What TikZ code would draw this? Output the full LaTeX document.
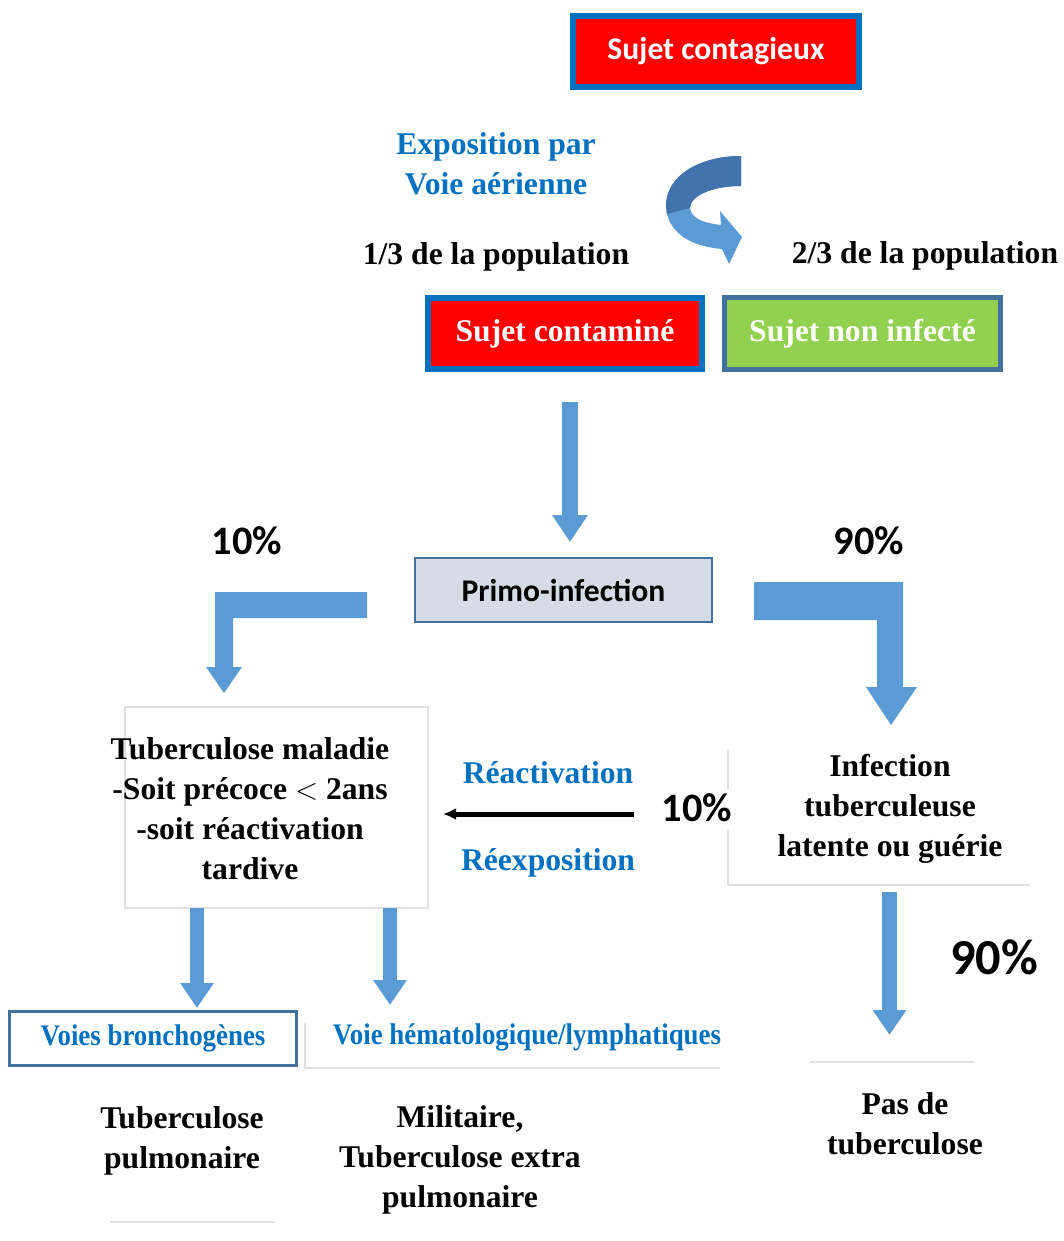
\documentclass[tikz,border=0pt]{standalone}
\usepackage{fontspec}
\setmainfont{Liberation Serif}
\newfontfamily\carlito{Carlito}
\usetikzlibrary{arrows.meta,calc}

\definecolor{boxred}{HTML}{FF0000}
\definecolor{boxblue}{HTML}{0070C0}
\definecolor{steel}{HTML}{41719C}
\definecolor{leafgreen}{HTML}{92D050}
\definecolor{primofill}{HTML}{D6DCE5}
\definecolor{arrowblue}{HTML}{5B9BD5}
\definecolor{arrowdark}{HTML}{4373AE}
\definecolor{textblue}{HTML}{0070C0}

\begin{document}
\begin{tikzpicture}[x=0.02cm, y=-0.02cm,
    serif/.style={font=\fontsize{18}{22.8}\selectfont\bfseries, align=center, inner sep=0pt},
    sans/.style={font=\fontsize{18}{22}\selectfont\carlito\bfseries, inner sep=0pt},
    pct/.style={font=\fontsize{23}{26}\selectfont\carlito\bfseries, inner sep=0pt},
    small/.style={font=\fontsize{17}{20}\selectfont\bfseries, text=textblue, inner sep=0pt},
    blockarrow/.style={draw=arrowblue, line width=0.3cm, -{Triangle[length=0.5cm, width=0.64cm]}},
    faint/.style={draw=black!12, line width=0.03cm}
  ]
  \useasboundingbox (0,0) rectangle (1063,1241);

  % === Top: source and exposure ===
  \node[sans, fill=boxred, draw=boxblue, line width=0.12cm, text=white,
        minimum width=5.72cm, minimum height=1.42cm] (contagieux) at (716,51.5) {Sujet contagieux};

  \node[serif, text=textblue] (expo) at (496,164) {Exposition par\\Voie aérienne};

  % Curved arrow (two-tone ribbon)
  \fill[arrowblue] (741,156) .. controls (695,156) and (660,180) .. (667,214)
        .. controls (673,238) and (698,247) .. (722,249) -- (729,264) -- (742,237) -- (720,211)
        -- (721,225) .. controls (703,223) and (691,218) .. (690,208)
        .. controls (690,196) and (712,186) .. (741,186) -- cycle;
  \fill[arrowdark] (741,156) .. controls (695,156) and (660,180) .. (667,214)
        -- (690,208) .. controls (690,196) and (712,186) .. (741,186) -- cycle;

  \node[serif] (pop13) at (496,257) {1/3 de la population};
  \node[serif] (pop23) at (925,256) {2/3 de la population};

  % === Contaminated / not infected ===
  \node[serif, fill=boxred, draw=boxblue, line width=0.12cm, text=white,
        minimum width=5.48cm, minimum height=1.42cm] (contamine) at (565,333.5) {Sujet contaminé};
  \node[serif, fill=leafgreen, draw=steel, line width=0.1cm, text=white,
        minimum width=5.52cm, minimum height=1.44cm] (noninfecte) at (862.5,333.5) {Sujet non infecté};

  \coordinate (c1) at (570,402);
  \coordinate (c2) at (570,542);
  \draw[blockarrow, line width=0.32cm, -{Triangle[length=0.54cm, width=0.68cm]}] (c1) -- (c2);

  % === Primo-infection and split ===
  \node[sans, fill=primofill, draw=steel, line width=0.04cm,
        minimum width=5.94cm, minimum height=1.28cm] (primo) at (563.5,590) {Primo-infection};

  \node[pct] (pct10a) at (247,541) {10\%};
  \node[pct] (pct90a) at (869,541) {90\%};

  % L-shaped arrows
  \fill[arrowblue] (367,592) -- (215,592) -- (215,667) -- (206,667) -- (224,693)
        -- (242,667) -- (233,667) -- (233,618) -- (367,618) -- cycle;
  \fill[arrowblue] (754,582) -- (903,582) -- (903,687) -- (917,687) -- (891,725)
        -- (866,687) -- (877,687) -- (877,620) -- (754,620) -- cycle;

  % === Disease box ===
  \node[draw=black!12, line width=0.03cm, minimum width=6.06cm, minimum height=4.02cm]
        (tbmbox) at (276.5,807.5) {};
  \node[serif] (tbm) at (250,809) {Tuberculose maladie\\-Soit précoce $<$ 2ans\\-soit réactivation\\tardive};

  % Reactivation arrow
  \node[serif, text=textblue] (react) at (548,773) {Réactivation};
  \node[serif, text=textblue] (reexpo) at (548,863) {Réexposition};
  \coordinate (r1) at (634,814);
  \coordinate (r2) at (443,814);
  \draw[line width=0.1cm, -{Latex[length=0.26cm, width=0.24cm]}] (r1) -- (r2);
  \node[pct] (pct10b) at (697,808) {10\%};

  % === Latent infection ===
  \draw[faint] (728,750) -- (728,790);
  \draw[faint] (728,830) -- (728,885) -- (1030,885);
  \node[serif] (latent) at (890,809) {Infection\\tuberculeuse\\latente ou guérie};

  \coordinate (l1) at (889.5,892);
  \coordinate (l2) at (889.5,1035);
  \draw[blockarrow] (l1) -- (l2);
  \node[font=\fontsize{28.7}{32}\selectfont\carlito\bfseries, inner sep=0pt] (pct90b) at (994,957) {90\%};

  % === Routes ===
  \coordinate (b1) at (197,908);
  \coordinate (b2) at (197,1008);
  \coordinate (h1) at (390,908);
  \coordinate (h2) at (390,1005);
  \draw[blockarrow, line width=0.28cm] (b1) -- (b2);
  \draw[blockarrow, line width=0.28cm] (h1) -- (h2);

  \node[small, draw=steel, line width=0.06cm, minimum width=5.74cm, minimum height=1.08cm]
        (broncho) at (153,1038) {\scalebox{0.9}[1]{Voies bronchogènes}};
  \draw[faint] (305,1023) -- (305,1068) -- (720,1068);
  \node[small] (hemato) at (527,1037) {\scalebox{0.9}[1]{Voie hématologique/lymphatiques}};

  % === Outcomes ===
  \node[serif] (tbpulm) at (182,1141) {Tuberculose\\pulmonaire};
  \draw[faint] (110,1222) -- (275,1222);
  \node[serif] (milit) at (460,1160) {Militaire,\\Tuberculose extra\\pulmonaire};
  \draw[faint] (810,1062) -- (975,1062);
  \node[serif] (pasde) at (905,1124) {Pas de\\tuberculose};

\end{tikzpicture}
\end{document}
